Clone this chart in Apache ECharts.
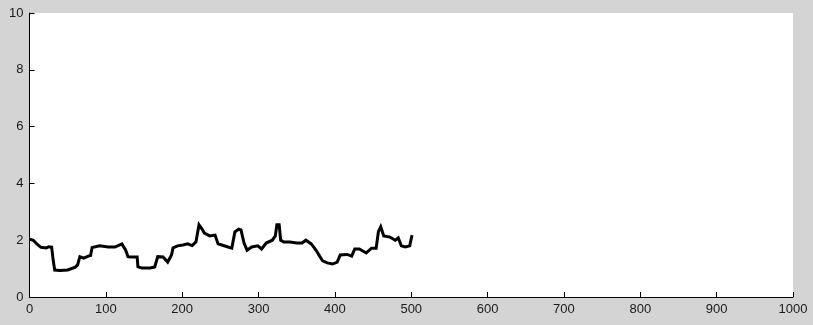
<!DOCTYPE html>
<html>
<head>
<meta charset="utf-8">
<script src="https://cdn.jsdelivr.net/npm/echarts@6/dist/echarts.min.js"></script>
<style>
  html, body { margin: 0; padding: 0; background: #d4d4d4; }
  #chart { width: 813px; height: 325px; }
</style>
</head>
<body>
<div id="chart"></div>
<script>
// Sample positions along the x axis
const sampleX = [
  0, 5, 10, 15, 22, 25, 29, 31, 33, 40, 50, 60, 63, 66, 71, 77, 80, 82, 92, 103, 112, 121, 126, 129,
  132, 141, 142, 147, 158, 164, 168, 175, 181, 186, 188, 194, 201, 207, 213, 218, 222, 226, 229, 236,
  243, 247, 252, 260, 265, 269, 274, 277, 281, 285, 291, 299, 304, 310, 318, 322, 324, 327, 329, 333,
  341, 350, 357, 362, 369, 373, 376, 380, 384, 390, 397, 403, 407, 416, 422, 426, 432, 441, 448, 454,
  457, 460, 464, 472, 479, 483, 487, 492, 498, 501
];
// Measured values at each sample
const sampleY = [
  2.04, 2.0, 1.86, 1.75, 1.73, 1.77, 1.76, 1.3, 0.95, 0.93, 0.95, 1.05, 1.13, 1.42, 1.37, 1.44, 1.46, 1.74, 1.8, 1.76, 1.76, 1.87, 1.65, 1.42,
  1.41, 1.41, 1.07, 1.02, 1.02, 1.06, 1.42, 1.41, 1.23, 1.48, 1.73, 1.8, 1.83, 1.87, 1.81, 1.94, 2.54, 2.39, 2.25, 2.15,
  2.18, 1.87, 1.83, 1.76, 1.72, 2.29, 2.39, 2.36, 1.9, 1.65, 1.76, 1.8, 1.69, 1.9, 2.0, 2.15, 2.54, 2.54, 2.0, 1.94,
  1.94, 1.9, 1.9, 2.0, 1.87, 1.73, 1.62, 1.44, 1.27, 1.2, 1.16, 1.23, 1.48, 1.5, 1.44, 1.69, 1.69, 1.55, 1.72, 1.72,
  2.3, 2.47, 2.15, 2.11, 2.0, 2.08, 1.8, 1.76, 1.8, 2.18
];
const xTicks = [0, 100, 200, 300, 400, 500, 600, 700, 800, 900, 1000];
const yTicks = [0, 2, 4, 6, 8, 10];

const chart = echarts.init(document.getElementById('chart'), null, { renderer: 'canvas' });
const axisText = {
  color: '#1a1a1a',
  fontFamily: 'Liberation Sans, Arial, sans-serif',
  fontSize: 13,
  formatter: v => String(v)
};

chart.setOption({
  backgroundColor: '#d4d4d4',
  animation: false,
  grid: { left: 29.5, right: 20, top: 13, bottom: 28, show: true, backgroundColor: '#ffffff', borderWidth: 0 },
  xAxis: {
    type: 'value',
    min: xTicks[0], max: xTicks[xTicks.length - 1], interval: 100,
    axisLine: { show: true, lineStyle: { color: '#000', width: 1 } },
    axisTick: { show: true, inside: true, length: 5, lineStyle: { color: '#000' } },
    axisLabel: { ...axisText, margin: 6 },
    splitLine: { show: false }
  },
  yAxis: {
    type: 'value',
    min: yTicks[0], max: yTicks[yTicks.length - 1], interval: 2,
    axisLine: { show: true, lineStyle: { color: '#000', width: 1 } },
    axisTick: { show: true, inside: true, length: 5, lineStyle: { color: '#000' } },
    axisLabel: { ...axisText, margin: 6 },
    splitLine: { show: false }
  },
  series: [{
    type: 'line',
    data: sampleX.map((x, i) => [x, sampleY[i]]),
    showSymbol: false,
    lineStyle: { color: '#000', width: 3, join: 'miter' },
    z: 5
  }]
});
</script>
</body>
</html>
